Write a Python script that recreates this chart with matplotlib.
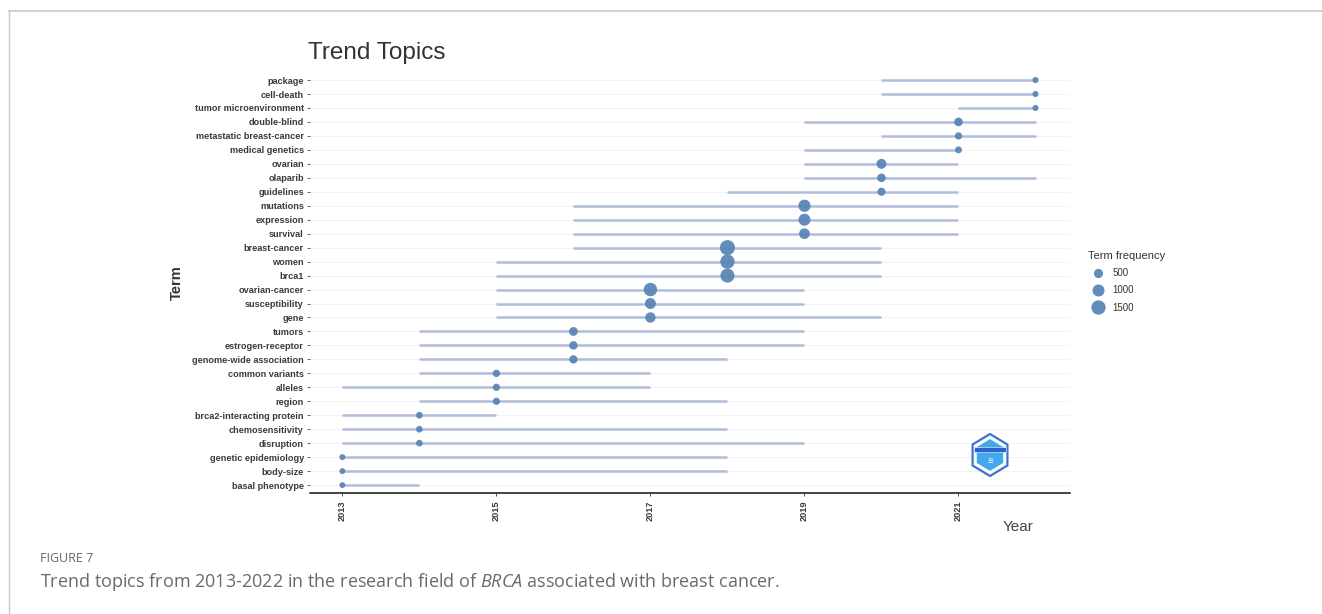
import numpy as np
import matplotlib
matplotlib.use("Agg")
from matplotlib import pyplot as plt
from matplotlib.lines import Line2D
from matplotlib.patches import RegularPolygon

plt.rcParams['font.family'] = ['Liberation Sans', 'DejaVu Sans']
plt.rcParams['mathtext.fontset'] = 'custom'
plt.rcParams['mathtext.it'] = 'Open Sans:italic'
plt.rcParams['mathtext.rm'] = 'Open Sans'

# terms listed bottom -> top
terms = ["basal phenotype", "body-size", "genetic epidemiology", "disruption",
         "chemosensitivity", "brca2-interacting protein", "region", "alleles",
         "common variants", "genome-wide association", "estrogen-receptor", "tumors",
         "gene", "susceptibility", "ovarian-cancer", "brca1", "women", "breast-cancer",
         "survival", "expression", "mutations", "guidelines", "olaparib", "ovarian",
         "medical genetics", "metastatic breast-cancer", "double-blind",
         "tumor microenvironment", "cell-death", "package"]
year_q1 = [2013, 2013, 2013, 2013, 2013, 2013, 2014, 2013, 2014, 2014, 2014, 2014,
           2015, 2015, 2015, 2015, 2015, 2016, 2016, 2016, 2016, 2018, 2019, 2019,
           2019, 2020, 2019, 2021, 2020, 2020]
year_med = [2013, 2013, 2013, 2014, 2014, 2014, 2015, 2015, 2015, 2016, 2016, 2016,
            2017, 2017, 2017, 2018, 2018, 2018, 2019, 2019, 2019, 2020, 2020, 2020,
            2021, 2021, 2021, 2022, 2022, 2022]
year_q3 = [2014, 2018, 2018, 2019, 2018, 2015, 2018, 2017, 2017, 2018, 2019, 2019,
           2020, 2019, 2019, 2020, 2020, 2020, 2021, 2021, 2021, 2021, 2022, 2021,
           2021, 2022, 2022, 2022, 2022, 2022]
freq = [90, 90, 100, 170, 170, 180, 230, 240, 250, 380, 400, 450,
        700, 800, 1300, 1450, 1500, 1700, 750, 1000, 1050, 350, 420, 620,
        200, 250, 420, 110, 110, 110]
legend_freq = [500, 1000, 1500]

line_col = "#b0bcd9"
dot_col = "#5a86b6"


def dot_size(f):
    # area grows linearly with frequency
    return 18 + (np.asarray(f) - 90) / (1700 - 90) * 100


fig = plt.figure(figsize=(13.22, 6.14), dpi=100)
ax = fig.add_axes([0.2345, 0.197, 0.575, 0.684])

y = np.arange(len(terms))
ax.hlines(y, year_q1, year_q3, color=line_col, lw=1.8, zorder=2)
ax.scatter(year_med, y, s=dot_size(freq), color=dot_col, alpha=0.95,
           edgecolors="none", zorder=3)

ax.set_xlim(2012.58, 2022.45)
ax.set_ylim(-0.57, len(terms) - 0.5)
ax.set_yticks(y)
ax.set_yticklabels(terms, fontsize=6.6, fontweight="bold", color="#3a3a3a")
ax.set_xticks([2013, 2015, 2017, 2019, 2021])
ax.set_xticklabels(["2013", "2015", "2017", "2019", "2021"], rotation=90,
                   fontsize=6.6, fontweight="bold", color="#3a3a3a")
ax.tick_params(axis="y", length=2.5, width=0.6, color="#555555", pad=2)
ax.tick_params(axis="x", length=2.5, width=0.6, color="#333333", pad=3)
for yy in y:
    ax.axhline(yy, color="#f2f2f2", lw=0.8, zorder=0)
for side in ["top", "right", "left"]:
    ax.spines[side].set_visible(False)
ax.spines["bottom"].set_linewidth(1.1)
ax.spines["bottom"].set_color("#111111")

ax.set_ylabel("Term", fontsize=10.5, fontweight="bold", color="#333333", labelpad=6)
fig.text(1018 / 1322, 1 - 527 / 614, "Year", fontsize=11, color="#444444",
         ha="center", va="center")
fig.text(308 / 1322, 1 - 53 / 614, "Trend Topics", fontsize=17.5, color="#333333",
         ha="left", va="center")

# legend for the point size
handles = [Line2D([], [], marker="o", ls="none", color=dot_col, alpha=0.95,
                  markeredgewidth=0, markersize=np.sqrt(dot_size(v)))
           for v in legend_freq]
leg = fig.legend(handles, [str(v) for v in legend_freq], title="Term frequency",
                 loc="upper left", bbox_to_anchor=(1084 / 1322, 1 - 247 / 614),
                 frameon=False, fontsize=7, title_fontsize=8,
                 handletextpad=0.5, labelspacing=0.75, borderaxespad=0)
leg._legend_box.align = "left"
leg.get_title().set_color("#333333")
for t in leg.get_texts():
    t.set_color("#333333")

# small hexagonal badge in the lower right
cx, cy = 990 / 1322, 1 - 455 / 614
badge = fig.add_axes([cx - 0.016, cy - 0.036, 0.032, 0.072])
badge.set_xlim(-1, 1)
badge.set_ylim(-1, 1)
badge.axis("off")
badge.add_patch(RegularPolygon((0, 0), 6, radius=0.95, facecolor="#ffffff",
                               edgecolor="#3b74d0", lw=1.6))
badge.add_patch(RegularPolygon((0, 0), 6, radius=0.72, facecolor="#3fa8ee",
                               edgecolor="none"))
badge.add_patch(plt.Rectangle((-0.75, 0.12), 1.5, 0.22, facecolor="#2d63c8",
                              edgecolor="white", lw=0.4))
badge.text(0, -0.3, "≡", ha="center", va="center", fontsize=7, color="white")

# page frame and caption
fig.add_artist(Line2D([9 / 1322, 1], [1 - 11 / 614] * 2, color="#c8c8c8", lw=1.2))
fig.add_artist(Line2D([9 / 1322] * 2, [0, 1 - 11 / 614], color="#c8c8c8", lw=1.0))
fig.text(40 / 1322, 1 - 558 / 614, "FIGURE 7", fontsize=9, color="#666666",
         ha="left", va="center", family=["Open Sans", "DejaVu Sans"])
fig.text(40 / 1322, 1 - 582 / 614,
         "Trend topics from 2013-2022 in the research field of $\\it{BRCA}$ "
         "associated with breast cancer.",
         fontsize=13, color="#6a6a6a", ha="left", va="center",
         family=["Open Sans", "DejaVu Sans"])

fig.savefig("out.png", dpi=100)
